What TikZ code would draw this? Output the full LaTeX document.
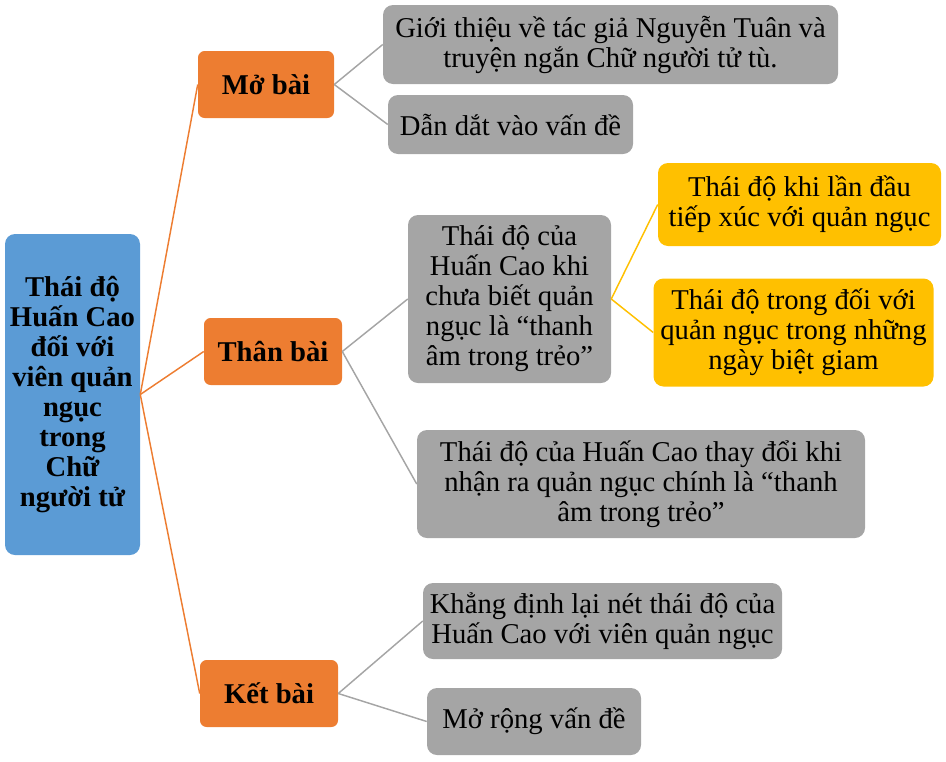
\documentclass[tikz,border=0pt]{standalone}
\usepackage{fontspec}
\setmainfont{Liberation Serif}
\definecolor{cOrange}{HTML}{ED7D31}
\definecolor{cBlue}{HTML}{5B9BD5}
\definecolor{cGray}{HTML}{A5A5A5}
\definecolor{cYellow}{HTML}{FFC000}
\begin{document}
\begin{tikzpicture}[x=0.75pt,y=-0.75pt,
  base/.style={rounded corners=7.5pt, inner sep=0pt, align=center,
    font=\fontsize{21.5pt}{22.5pt}\selectfont},
  rootbox/.style={base, fill=cBlue, font=\fontsize{21.5pt}{22.5pt}\selectfont\bfseries},
  secbox/.style={base, fill=cOrange, rounded corners=5pt, font=\fontsize{21.5pt}{22.5pt}\selectfont\bfseries},
  graybox/.style={base, fill=cGray},
  yellowbox/.style={base, fill=cYellow},
  wh/.style args={#1/#2}{minimum width=#1*0.75pt, minimum height=#2*0.75pt},
  olink/.style={draw=cOrange, line width=1.1pt},
  glink/.style={draw=cGray, line width=1.1pt},
  ylink/.style={draw=cYellow, line width=1.1pt}]
\useasboundingbox (0,0) rectangle (946,761);
\node[rootbox, wh=135/321] (root) at (72.5,394.5) {Thái độ\\Huấn Cao\\đối với\\viên quản\\ngục\\trong\\Chữ\\người tử};
\node[secbox, wh=136/67] (mo) at (266,84.5) {Mở bài};
\node[secbox, wh=138/67] (than) at (273,351.5) {Thân bài};
\node[secbox, wh=138/67] (ket) at (269,693.5) {Kết bài};
\node[graybox, wh=455/79] (g1) at (610.5,44.5) {Giới thiệu về tác giả Nguyễn Tuân và\\truyện ngắn Chữ người tử tù.};
\node[graybox, wh=245/59] (g2) at (510.5,124.5) {Dẫn dắt vào vấn đề};
\node[graybox, wh=203/168] (g3) at (509.5,299) {Thái độ của\\Huấn Cao khi\\chưa biết quản\\ngục là “thanh\\âm trong trẻo”};
\node[yellowbox, wh=283/83] (y1) at (799.5,204.5) {Thái độ khi lần đầu\\tiếp xúc với quản ngục};
\node[yellowbox, wh=280/108] (y2) at (793.5,332.5) {Thái độ trong đối với\\quản ngục trong những\\ngày biệt giam};
\node[graybox, wh=448/108] (g4) at (641,484) {Thái độ của Huấn Cao thay đổi khi\\nhận ra quản ngục chính là “thanh\\âm trong trẻo”};
\node[graybox, wh=359/76] (g5) at (602.5,621) {Khẳng định lại nét thái độ của\\Huấn Cao với viên quản ngục};
\node[graybox, wh=214/67] (g6) at (534,721.5) {Mở rộng vấn đề};
\draw[olink] (root.east) -- (mo.west);
\draw[olink] (root.east) -- (than.west);
\draw[olink] (root.east) -- (ket.west);
\draw[glink] (mo.east) -- (g1.west);
\draw[glink] (mo.east) -- (g2.west);
\draw[glink] (than.east) -- (g3.west);
\draw[glink] (than.east) -- (g4.west);
\draw[ylink] (g3.east) -- (y1.west);
\draw[ylink] (g3.east) -- (y2.west);
\draw[glink] (ket.east) -- (g5.west);
\draw[glink] (ket.east) -- (g6.west);
\end{tikzpicture}
\end{document}
